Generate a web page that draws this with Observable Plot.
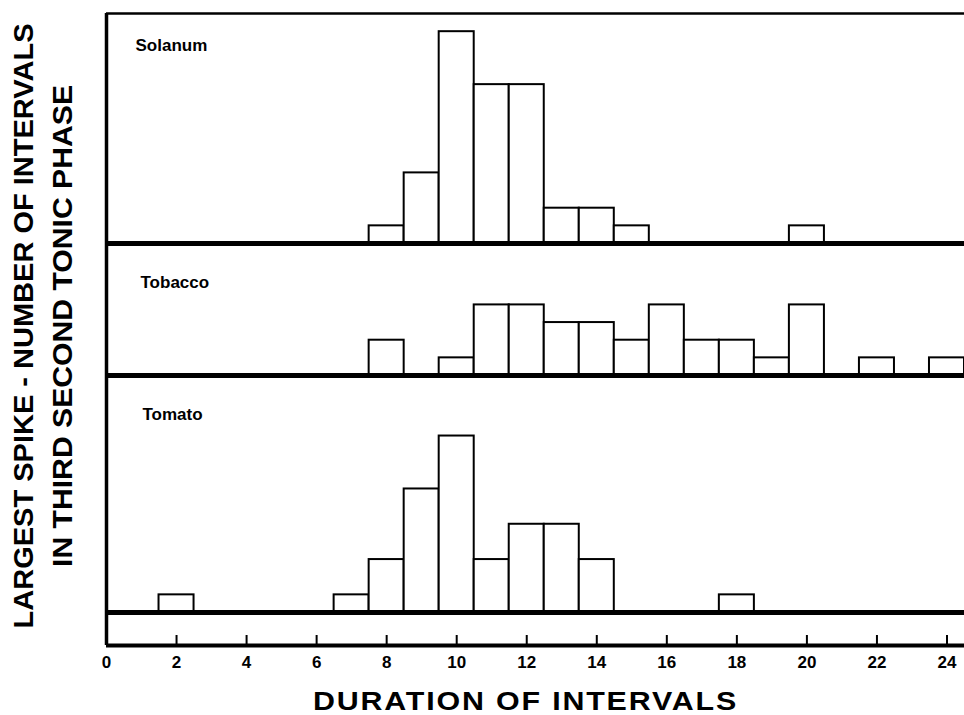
<!DOCTYPE html>
<html><head><meta charset="utf-8">
<script src="https://cdn.jsdelivr.net/npm/d3@7"></script>
<script src="https://cdn.jsdelivr.net/npm/@observablehq/plot@0.6"></script>
<style>
body{margin:0;background:#fff;}
#chart{position:relative;width:964px;height:715px;overflow:hidden;font-family:"Liberation Sans",Arial,sans-serif;}
#chart > svg{position:absolute;left:0;}
</style></head>
<body><div id="chart"></div>
<script>
// ---- data ----
const solanumX = [8, 9, 10, 11, 12, 13, 14, 15, 20];
const solanumN = [1, 4, 12, 9, 9, 2, 2, 1, 1];
const tobaccoX = [8, 10, 11, 12, 13, 14, 15, 16, 17, 18, 19, 20, 22, 24];
const tobaccoN = [2, 1, 4, 4, 3, 3, 2, 4, 2, 2, 1, 4, 1, 1];
const tomatoX = [2, 7, 8, 9, 10, 11, 12, 13, 14, 18];
const tomatoN = [1, 1, 3, 7, 10, 3, 5, 5, 3, 1];
const panelLabels = ["Solanum", "Tobacco", "Tomato"];
const xTicks = [0, 2, 4, 6, 8, 10, 12, 14, 16, 18, 20, 22, 24];
const xDomain = [0, 24.5];
const solanumYDomain = [0, 13.03];
const tobaccoYDomain = [0, 7.48];
const tomatoYDomain = [-1.87, 13.43];
const xTitle = "DURATION OF INTERVALS";
const yTitle1 = "LARGEST SPIKE - NUMBER OF INTERVALS";
const yTitle2 = "IN THIRD SECOND TONIC PHASE";

const chart = document.getElementById("chart");
const FONT = '"Liberation Sans", Arial, sans-serif';

function rows(xs, ns) { return xs.map((x, i) => ({x, n: ns[i]})); }

function panel({label, xs, ns, yDomain, top, height, marginTop, marginBottom, labelDx, labelDy, topBorder, axis}) {
  const data = rows(xs, ns);
  const marks = [
    Plot.rect(data, {x1: d => d.x - 0.5, x2: d => d.x + 0.5, y1: 0, y2: "n", fill: "white", stroke: "black", strokeWidth: 2}),
    Plot.ruleY([0], {stroke: "black", strokeWidth: 5}),
    Plot.ruleX([xDomain[0]], {stroke: "black", strokeWidth: 3.5}),
    Plot.text([label], {text: d => d, frameAnchor: "top-left", dx: labelDx, dy: labelDy, textAnchor: "start", lineAnchor: "bottom", fontSize: 17, fontWeight: "bold", fill: "black"})
  ];
  if (topBorder) marks.push(Plot.ruleY([yDomain[1]], {stroke: "black", strokeWidth: 2.5}));
  if (axis) {
    // upward ticks on the bottom axis line
    marks.push(Plot.ruleX(xTicks.filter(d => d > 0), {x: d => d, insetTop: height - marginTop - marginBottom - 10, stroke: "black", strokeWidth: 2}));
    marks.push(Plot.ruleY([yDomain[0]], {stroke: "black", strokeWidth: 4}));
    marks.push(Plot.axisX(xTicks, {tickSize: 0, tickPadding: 10, fontSize: 17, fontWeight: "bold", fill: "black", tickFormat: d => String(d)}));
    marks.push(Plot.text([xTitle], {text: d => d, frameAnchor: "bottom", dx: -10, dy: 64, lineAnchor: "bottom", fontSize: 25, fontWeight: "bold", fill: "black"}));
  }
  const svg = Plot.plot({
    width: 964, height, marginLeft: 106, marginRight: 0, marginTop, marginBottom,
    style: {background: "transparent", overflow: "visible", fontFamily: FONT, color: "black"},
    x: {domain: xDomain, axis: null},
    y: {domain: yDomain, axis: null},
    marks
  });
  svg.style.top = top + "px";
  chart.appendChild(svg);
  return svg;
}

panel({label: panelLabels[0], xs: solanumX, ns: solanumN, yDomain: solanumYDomain, top: 0, height: 246, marginTop: 13, marginBottom: 3, labelDx: 29, labelDy: 37, topBorder: true});
panel({label: panelLabels[1], xs: tobaccoX, ns: tobaccoN, yDomain: tobaccoYDomain, top: 240, height: 138, marginTop: 3, marginBottom: 3, labelDx: 34, labelDy: 44});
const bottom = panel({label: panelLabels[2], xs: tomatoX, ns: tomatoN, yDomain: tomatoYDomain, top: 372, height: 343, marginTop: 3, marginBottom: 70, labelDx: 36, labelDy: 44, axis: true});

d3.select(bottom).selectAll("text").filter(function() { return this.textContent === xTitle; })
  .attr("letter-spacing", "1.5px").attr("textLength", 425).attr("lengthAdjust", "spacingAndGlyphs");

// rotated y title
const ys = d3.select(chart).append("svg").attr("width", 106).attr("height", 715).style("top", "0px");
[[yTitle1, 23, 605], [yTitle2, 62, 482]].forEach(([t, cx, len]) => {
  ys.append("text").attr("transform", `translate(${cx},326) rotate(-90)`)
    .attr("text-anchor", "middle").attr("dy", "0.36em")
    .attr("font-family", FONT).attr("font-weight", "bold").attr("font-size", 28)
    .attr("textLength", len).attr("lengthAdjust", "spacingAndGlyphs")
    .text(t);
});
</script>
</body></html>
